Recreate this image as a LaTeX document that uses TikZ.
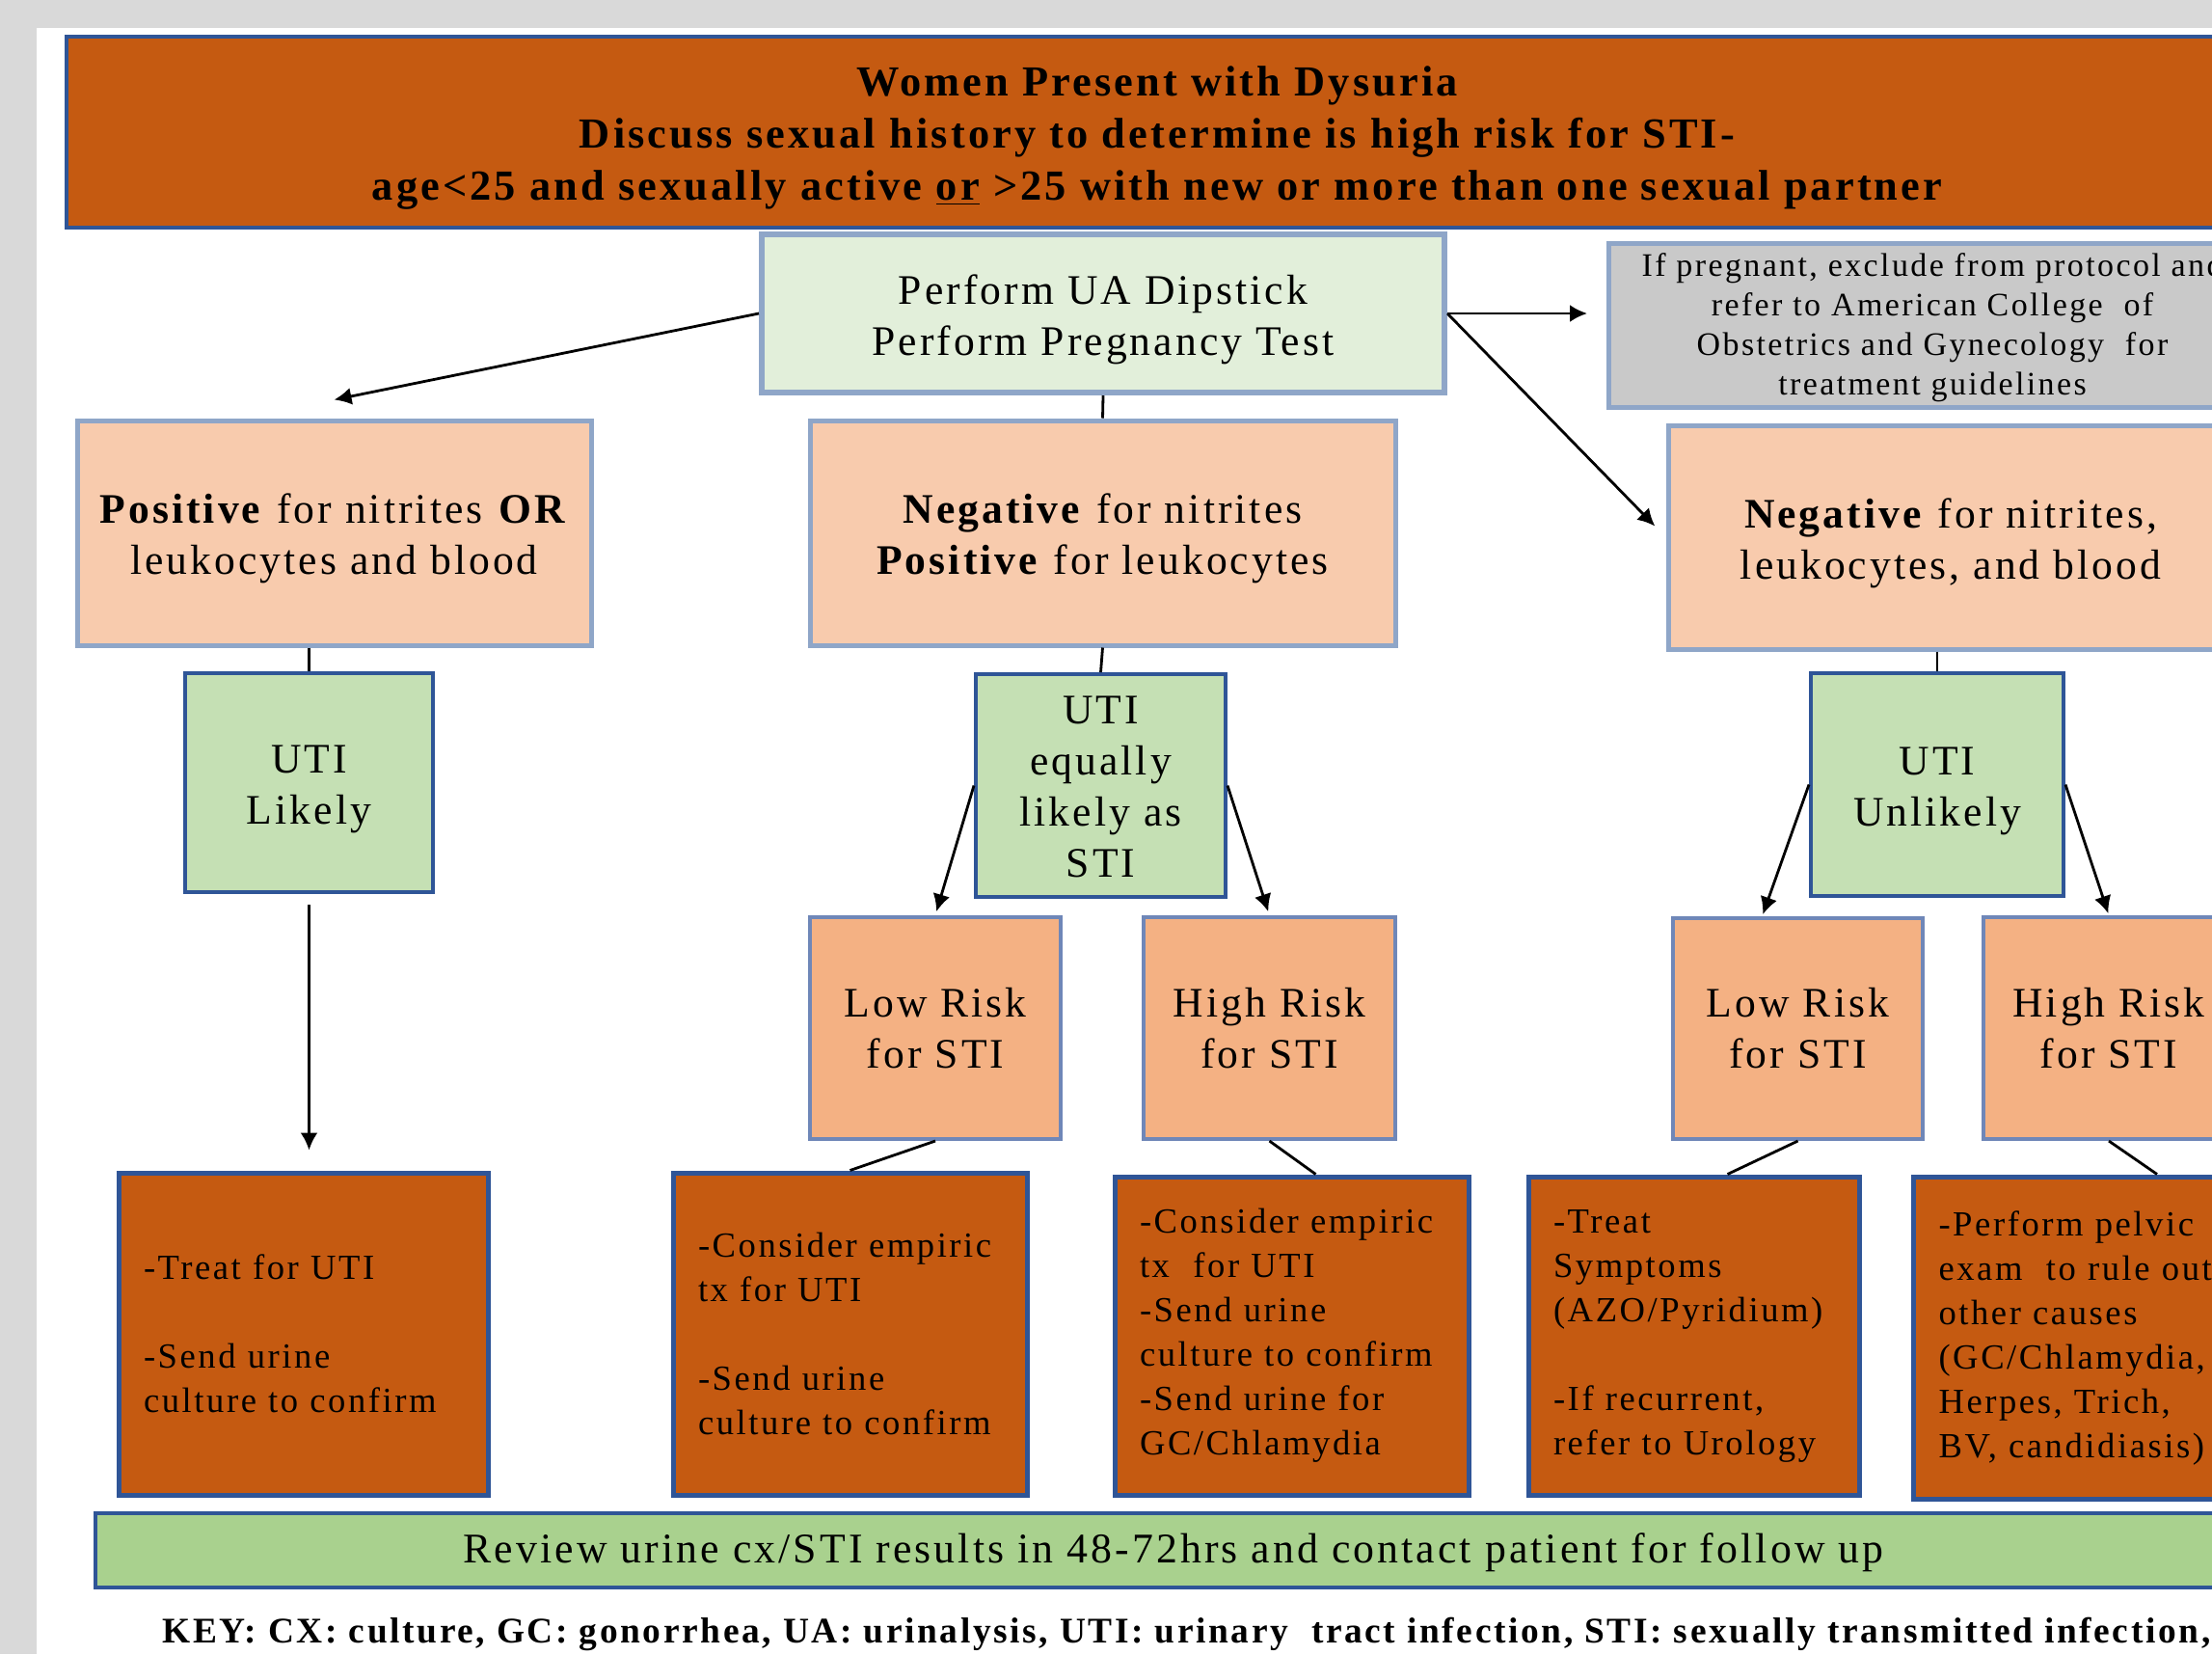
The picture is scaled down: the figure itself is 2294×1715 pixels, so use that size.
\documentclass[tikz,border=0pt]{standalone}
\usepackage{fontspec}
\setmainfont{Liberation Serif}[LetterSpace=7]
\usetikzlibrary{arrows.meta}

\definecolor{rust}{HTML}{C55A11}
\definecolor{peach}{HTML}{F8CBAD}
\definecolor{apricot}{HTML}{F4B183}
\definecolor{sage}{HTML}{C5E0B4}
\definecolor{mint}{HTML}{E2EFDA}
\definecolor{stone}{HTML}{C9C9C9}
\definecolor{leaf}{HTML}{A9D18E}
\definecolor{dkblue}{HTML}{2F5597}
\definecolor{ltblue}{HTML}{8FA6C8}
\definecolor{midblue}{HTML}{6F87B8}
\definecolor{pagegray}{HTML}{D9D9D9}

\newcommand\hdsize{\fontsize{22.2}{27}\selectfont}
\newcommand\boxsize{\fontsize{21.8}{26.5}\selectfont}
\newcommand\notesize{\fontsize{17}{20.5}\selectfont}
\newcommand\stepsize{\fontsize{18.3}{23}\selectfont}
\newcommand\barsize{\fontsize{21.9}{24}\selectfont}
\newcommand\keysize{\fontsize{18.7}{22}\selectfont}
% centred lines with extra room on top, so they sit a little lower
\newcommand\lowtext[2][6pt]{\raisebox{0pt}[\dimexpr\height+#1\relax]{\begin{tabular}{@{}c@{}}#2\end{tabular}}}

\tikzset{
  box/.style={rectangle, align=center, inner sep=0pt, text=black},
  hdbox/.style={box, fill=rust, draw=dkblue, line width=2pt, font=\hdsize\bfseries},
  uabox/.style={box, fill=mint, draw=ltblue, line width=3pt, font=\boxsize},
  pregbox/.style={box, fill=stone, draw=ltblue, line width=2.5pt, font=\notesize},
  condbox/.style={box, fill=peach, draw=ltblue, line width=2.5pt, font=\boxsize},
  utibox/.style={box, fill=sage, draw=dkblue, line width=2pt, font=\boxsize},
  riskbox/.style={box, fill=apricot, draw=midblue, line width=2pt, font=\boxsize},
  stepbox/.style={rectangle, fill=rust, draw=dkblue, line width=2.5pt, align=left,
    inner xsep=13pt, inner ysep=0pt, font=\stepsize},
  barbox/.style={box, fill=leaf, draw=dkblue, line width=2pt, font=\barsize},
  keytxt/.style={inner sep=0pt, font=\keysize\bfseries},
  con/.style={line width=1.4pt},
  arr/.style={con, -{Latex[length=9pt,width=9pt]}}
}

\begin{document}
\begin{tikzpicture}[x=0.5pt,y=-0.5pt]
\clip (0,0) rectangle (2294,1715);
\fill[pagegray] (0,0) rectangle (2294,1715);
\fill[white] (38,29) rectangle (2294,1715); %page

% top
\node[hdbox, minimum width=1131pt, minimum height=99pt] (head) at (1200,137)
  {\lowtext{Women Present with Dysuria\\
   Discuss sexual history to determine is high risk for STI-\\
   age<25 and sexually active \underline{or} >25 with new or more than one sexual partner}};

\node[uabox, minimum width=354pt, minimum height=82pt] (ua) at (1144,325)
  {\lowtext{Perform UA Dipstick\\Perform Pregnancy Test}};
\node[pregbox, minimum width=335.5pt, minimum height=84pt] (preg) at (2004,337)
  {\lowtext[3pt]{If pregnant, exclude from protocol and\\refer to American College\ \ of\\
   Obstetrics and Gynecology\ \ for\\treatment guidelines}};

% dipstick results
\node[condbox, minimum width=266.5pt, minimum height=116.5pt] (pos) at (346.5,552.5)
  {\lowtext{\textbf{Positive} for nitrites \textbf{OR}\\leukocytes and blood}};
\node[condbox, minimum width=303.5pt, minimum height=116.5pt] (neg) at (1143.5,552.5)
  {\lowtext{\textbf{Negative} for nitrites\\\textbf{Positive} for leukocytes}};
\node[condbox, minimum width=293pt, minimum height=116pt] (none) at (2023,557)
  {\lowtext{\textbf{Negative} for nitrites,\\leukocytes, and blood}};

% likelihood
\node[utibox, minimum width=128.5pt, minimum height=113.5pt] (likely) at (320.5,811.5)
  {\lowtext{UTI\\Likely}};
\node[utibox, minimum width=129.5pt, minimum height=115.5pt] (equal) at (1141.5,814.5)
  {\lowtext[5pt]{UTI\\equally\\likely as\\STI}};
\node[utibox, minimum width=131pt, minimum height=115.5pt] (unl) at (2009,813.5)
  {\lowtext{UTI\\Unlikely}};

% risk
\node[riskbox, minimum width=130pt, minimum height=115pt] (lowm) at (970,1066)
  {\lowtext[4pt]{Low Risk\\for STI}};
\node[riskbox, minimum width=130.5pt, minimum height=115pt] (highm) at (1316.5,1066)
  {\lowtext[4pt]{High Risk\\for STI}};
\node[riskbox, minimum width=129.5pt, minimum height=114.5pt] (lowr) at (1864.5,1066.5)
  {\lowtext[4pt]{Low Risk\\for STI}};
\node[riskbox, minimum width=130pt, minimum height=115pt] (highr) at (2187,1066)
  {\lowtext[4pt]{High Risk\\for STI}};

% actions
\node[stepbox, text width=165.5pt, minimum height=167pt] (treat) at (314.5,1383)
  {-Treat for UTI\\[23pt]-Send urine\\culture to confirm};
\node[stepbox, text width=157.5pt, minimum height=167pt] (cons1) at (881.5,1383)
  {-Consider empiric\\tx for UTI\\[23pt]-Send urine\\culture to confirm};
\node[stepbox, text width=157.5pt, minimum height=165pt] (cons2) at (1339.5,1385)
  {-Consider empiric\\tx\ \ for UTI\\-Send urine\\culture to confirm\\-Send urine for\\GC/Chlamydia};
\node[stepbox, text width=145.5pt, minimum height=165pt] (sympt) at (1756.5,1385)
  {-Treat\\Symptoms\\(AZO/Pyridium)\\[23pt]-If recurrent,\\refer to Urology};
\node[stepbox, text width=157.5pt, minimum height=167pt] (pelvic) at (2168,1387)
  {-Perform pelvic\\exam\ \ to rule out\\other causes\\(GC/Chlamydia,\\Herpes, Trich,\\BV, candidiasis)};

\node[barbox, minimum width=1118pt, minimum height=38.5pt] (review) at (1217,1607.5)
  {\lowtext[3pt]{Review urine cx/STI results in 48-72hrs and contact patient for follow up}};
\node[keytxt, anchor=base west] (key) at (168,1703)
  {KEY:\ CX: culture, GC: gonorrhea, UA: urinalysis,\ UTI: urinary\ \ tract infection, STI: sexually transmitted infection,};

% connectors
\coordinate (posin) at ([yshift=9.5pt]pos.north);
\draw[arr] (ua.west) -- (posin);
\draw[con] (ua.south) -- (neg.north);
\draw[arr, shorten >=10pt] (ua.east) -- (ua.east -| preg.west);
\draw[arr, shorten >=8pt] (ua.east) -- (none.west);

\draw[con] (likely.north |- pos.south) -- (likely.north);
\draw[con] (neg.south) -- (equal.north);
\draw[con] (unl.north |- none.south) -- (unl.north);

\draw[arr, shorten <=5.5pt, shorten >=10.5pt] (likely.south) -- (likely.south |- treat.north);
\draw[arr, shorten >=2pt] (equal.west) -- (lowm.north);
\draw[arr, shorten >=2pt] (equal.east) -- (highm.north);
\coordinate (lowrin) at ([xshift=-18.5pt]lowr.north);
\draw[arr, shorten >=1pt] (unl.west) -- (lowrin);
\draw[arr, shorten >=1pt] (unl.east) -- (highr.north);

\draw[con] (lowm.south) -- (cons1.north);
\draw[con] (highm.south) -- ([xshift=12.5pt]cons2.north);
\draw[con] (lowr.south) -- ([xshift=17.5pt]sympt.north);
\draw[con] (highr.south) -- ([xshift=34.5pt]pelvic.north);
\end{tikzpicture}
\end{document}
